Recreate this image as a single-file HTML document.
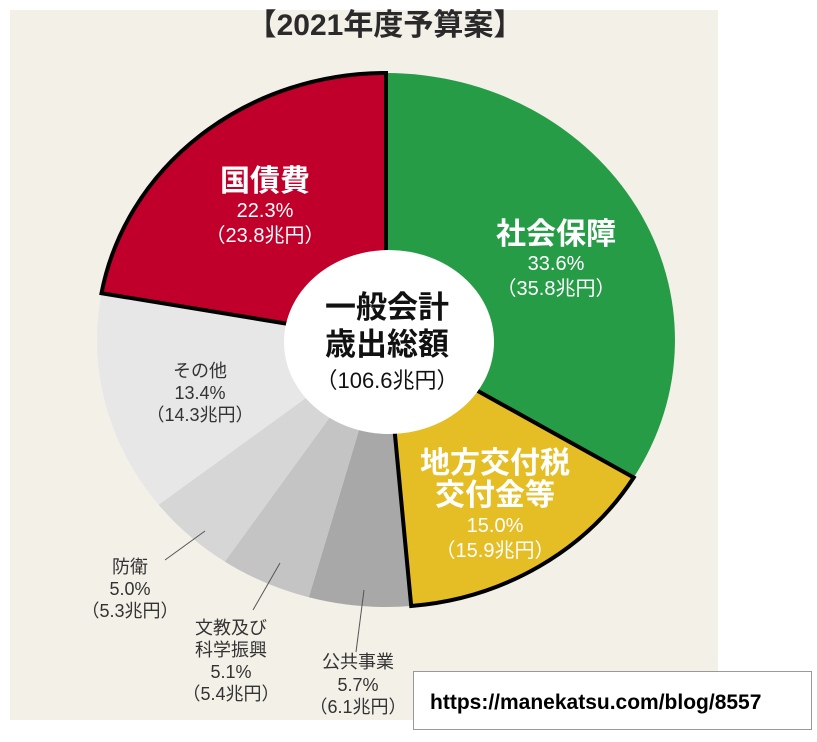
<!DOCTYPE html>
<html><head><meta charset="utf-8"><style>
html,body{margin:0;padding:0;background:#fff;}
body{width:817px;height:742px;position:relative;overflow:hidden;}
svg{position:absolute;left:0;top:0;}
text{font-family:"Liberation Sans","Noto Sans CJK JP",sans-serif;}
</style></head><body>
<svg width="817" height="742" viewBox="0 0 817 742">
<rect x="10" y="10" width="708" height="710" fill="#f3f0e8"/>
<text x="385" y="35" text-anchor="middle" font-size="30" font-weight="bold" fill="#2a2a2a">【2021年度予算案】</text>
<g>
<path d="M386,340 L386,73 A289,267 0 0 1 633.7,477.5 Z" fill="#269c47"/>
<path d="M386,340 L411.2,606 A289,267 0 0 1 308.8,597.3 Z" fill="#a8a8a8"/>
<path d="M386,340 L308.8,597.3 A289,267 0 0 1 224.8,561.6 Z" fill="#c4c4c4"/>
<path d="M386,340 L224.8,561.6 A289,267 0 0 1 158.6,504.7 Z" fill="#d6d6d6"/>
<path d="M386,340 L158.6,504.7 A289,267 0 0 1 101.5,293.2 Z" fill="#e7e7e7"/>
<path d="M386,340 L633.7,477.5 A289,267 0 0 1 411.2,606 Z" fill="#e5bd24" stroke="#000" stroke-width="4" stroke-linejoin="miter"/>
<path d="M386,340 L101.5,293.2 A289,267 0 0 1 386,73 Z" fill="#c0002a" stroke="#000" stroke-width="4" stroke-linejoin="miter"/>
<ellipse cx="389" cy="342" rx="105" ry="92" fill="#fff"/>
</g>
<g fill="#fff" text-anchor="middle">
<text x="265" y="191" font-size="30" font-weight="bold">国債費</text>
<text x="265" y="217" font-size="20">22.3%</text>
<text x="265" y="242" font-size="20">（23.8兆円）</text>
<text x="556" y="244" font-size="30" font-weight="bold">社会保障</text>
<text x="556" y="270" font-size="20">33.6%</text>
<text x="556" y="295" font-size="20">（35.8兆円）</text>
<text x="495" y="473" font-size="30" font-weight="bold">地方交付税</text>
<text x="495" y="505" font-size="30" font-weight="bold">交付金等</text>
<text x="495" y="532" font-size="20">15.0%</text>
<text x="495" y="557" font-size="20">（15.9兆円）</text>
</g>
<g fill="#111" text-anchor="middle">
<text x="387" y="318" font-size="31" font-weight="bold">一般会計</text>
<text x="387" y="355" font-size="31" font-weight="bold">歳出総額</text>
<text x="387" y="388" font-size="22">（106.6兆円）</text>
</g>
<g fill="#333" text-anchor="middle" font-size="18">
<text x="200" y="377">その他</text>
<text x="200" y="399">13.4%</text>
<text x="200" y="421">（14.3兆円）</text>
<text x="130" y="573">防衛</text>
<text x="130" y="595">5.0%</text>
<text x="130" y="617">（5.3兆円）</text>
<text x="231" y="634">文教及び</text>
<text x="231" y="656">科学振興</text>
<text x="231" y="678">5.1%</text>
<text x="231" y="700">（5.4兆円）</text>
<text x="358" y="668">公共事業</text>
<text x="358" y="691">5.7%</text>
<text x="358" y="713">（6.1兆円）</text>
</g>
<g stroke="#555" stroke-width="1">
<line x1="165" y1="560" x2="205" y2="531"/>
<line x1="253" y1="610" x2="280" y2="563"/>
<line x1="356" y1="652" x2="364" y2="590"/>
</g>
<rect x="413.5" y="671.5" width="398" height="58" fill="#fff" stroke="#999" stroke-width="1"/>
<text x="430" y="709" font-size="21" font-weight="bold" fill="#000">https://manekatsu.com/blog/8557</text>
</svg>
</body></html>
